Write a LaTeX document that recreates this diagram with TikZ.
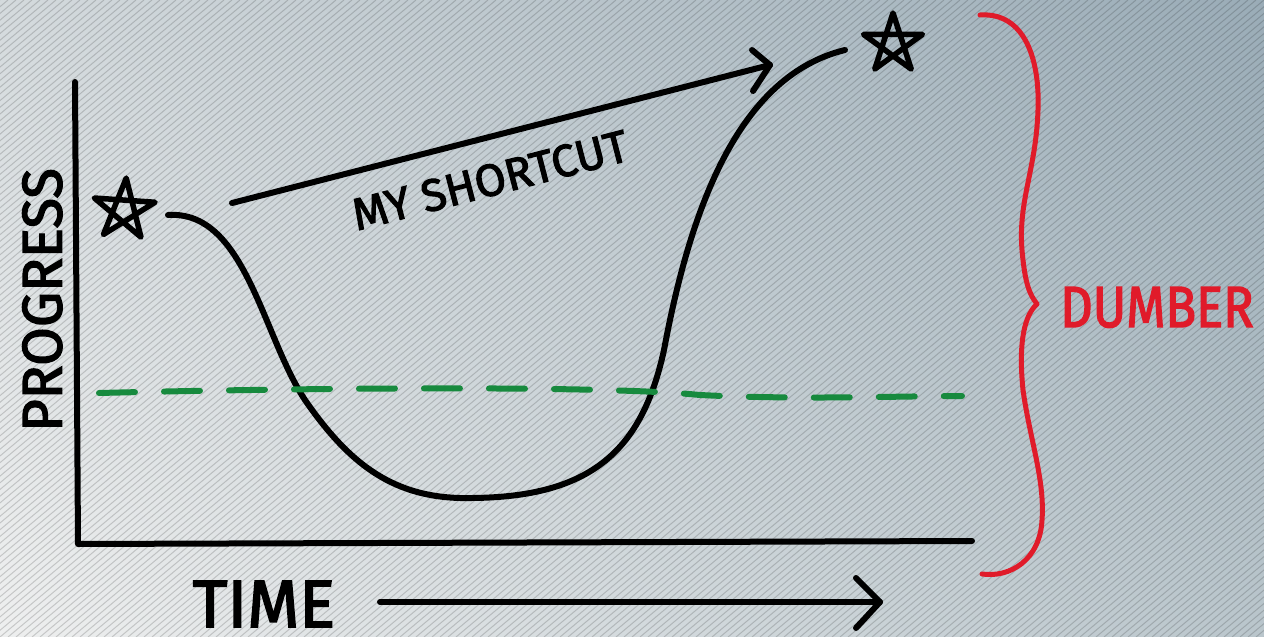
\documentclass[tikz,border=0pt]{standalone}
\usepackage{fontspec}
\setmainfont{Fira Sans}[FakeBold=2.5]
\usetikzlibrary{calc,shadings}
\definecolor{bgA}{HTML}{EEEFEF}
\definecolor{bgB}{HTML}{D4DADD}
\definecolor{bgC}{HTML}{9AACB7}
\definecolor{bgD}{HTML}{BAC6CC}
\definecolor{dred}{HTML}{E01B2A}
\definecolor{dgreen}{HTML}{178A3E}
\tikzset{
  ink/.style={line width=6pt, line cap=round, line join=round, black},
  starshape/.style={line width=5.5pt, line join=round, line cap=round, black},
  lbl/.style={font=\fontsize{#1}{#1}\selectfont, inner sep=0pt, anchor=center, text depth=0pt},
}
\begin{document}
\begin{tikzpicture}[x=1pt,y=-1pt]
\useasboundingbox (0,0) rectangle (1264,637);
\shade[upper left=bgB, upper right=bgC, lower left=bgA, lower right=bgD] (0,0) rectangle (1264,637);
\begin{scope}
\clip (0,0) rectangle (1264,637);
\foreach \s in {0,8,...,2040} {
  \draw[black, opacity=0.16, line width=1pt] (\s,0) -- (\s-760,637);
}
\end{scope}
% axes
\coordinate (ytop) at (75,82);
\coordinate (orig) at (78,544);
\coordinate (xend) at (972,541);
\draw[ink] (ytop) -- (orig) -- (xend);
% labels
\node[lbl=56, rotate=90] (prog) at (42,300) {PROGRESS};
\node[lbl=67] (time) at (264,604) {TIME};
% time arrow
\coordinate (ta) at (380,602);
\coordinate (tb) at (880,602);
\draw[ink] (ta) -- (tb);
\draw[ink] ($(tb)+(-24,-24)$) -- (tb) -- ($(tb)+(-24,26)$);
% stars
\foreach \nm/\cx/\cy/\r/\rot in {s1/124/210/32/4, s2/893/44/31/0} {
  \coordinate (\nm) at (\cx,\cy);
  \draw[starshape] ($(\nm)+({\r*cos(-90+\rot)},{\r*sin(-90+\rot)})$)
    -- ($(\nm)+({\r*cos(54+\rot)},{\r*sin(54+\rot)})$)
    -- ($(\nm)+({\r*cos(198+\rot)},{\r*sin(198+\rot)})$)
    -- ($(\nm)+({\r*cos(-18+\rot)},{\r*sin(-18+\rot)})$)
    -- ($(\nm)+({\r*cos(126+\rot)},{\r*sin(126+\rot)})$) -- cycle;
}
% curve
\coordinate (c0) at (168,215);
\coordinate (c1) at (305,400);
\coordinate (c2) at (472,498);
\coordinate (c3) at (664,350);
\coordinate (c4) at (845,50);
\draw[ink] (c0) .. controls (245,210) and (262,335) .. (c1)
  .. controls (350,465) and (395,500) .. (c2)
  .. controls (592,497) and (642,450) .. (c3)
  .. controls (692,200) and (742,75) .. (c4);
% shortcut
\coordinate (sa) at (232,203);
\coordinate (sb) at (770,65);
\draw[ink] (sa) -- (sb);
\draw[ink] (752,50) -- (sb) -- (753,91);
\node[lbl=45, rotate=14.5] (sc) at (490,180) {MY SHORTCUT};
% green dashed
\coordinate (ga) at (99,393);
\coordinate (gb) at (962,396);
\draw[dgreen, line width=6pt, dash pattern=on 36pt off 29pt, line cap=round]
  (ga) .. controls (300,388) and (600,385) .. (700,395) .. controls (800,400) and (900,396) .. (gb);
% brace
\coordinate (ba) at (980,15);
\coordinate (tip) at (1037,304);
\coordinate (bb) at (982,574);
\draw[dred, line width=5pt, line cap=round, line join=round]
  (ba) .. controls (1025,12) and (1040,60) .. (1038,110)
  .. controls (1036,170) and (1018,200) .. (1022,250)
  .. controls (1025,285) and (1030,295) .. (tip)
  .. controls (1025,315) and (1018,340) .. (1023,390)
  .. controls (1030,440) and (1045,480) .. (1042,520)
  .. controls (1040,560) and (1010,578) .. (bb);
\node[lbl=58, text=dred, xscale=0.87] (dumb) at (1157,307) {DUMBER};
\end{tikzpicture}
\end{document}
